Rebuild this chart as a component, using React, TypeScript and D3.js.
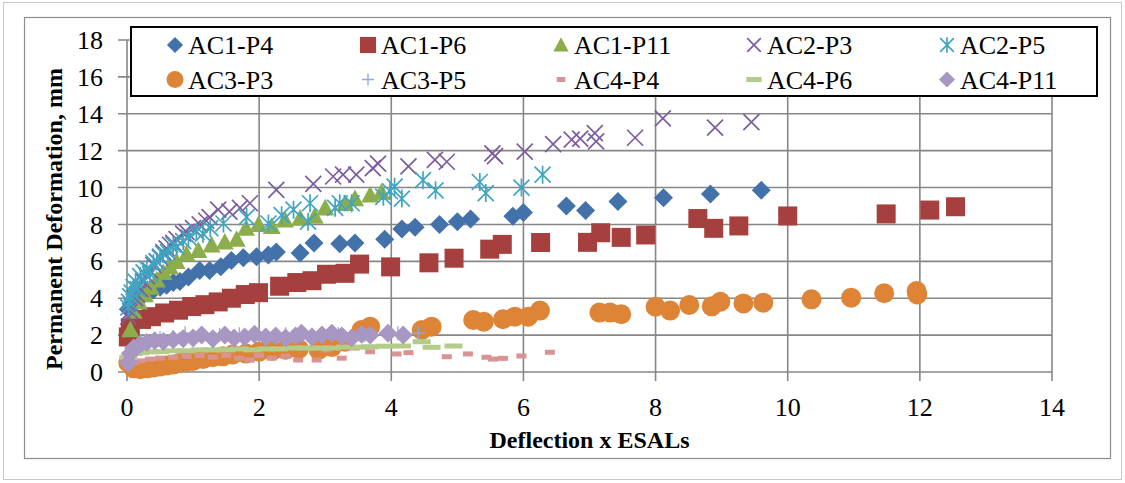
import React, { useRef, useEffect } from "react";
import * as d3 from "d3";

// [deflection x ESALs, permanent deformation mm]
const ac1p4 = [
  [0.02, 3.4], [0.08, 3.7], [0.15, 3.9], [0.22, 4.1], [0.3, 4.3], [0.4, 4.45], [0.5, 4.6], [0.6, 4.7],
  [0.7, 4.85], [0.8, 4.9], [0.93, 5.15], [1.1, 5.5], [1.25, 5.5], [1.42, 5.7], [1.58, 6.05], [1.76, 6.2],
  [1.96, 6.25], [2.14, 6.35], [2.26, 6.5], [2.62, 6.45], [2.83, 7.0], [3.22, 6.95], [3.45, 7.0], [3.9, 7.2],
  [4.16, 7.75], [4.36, 7.85], [4.73, 8.0], [5.0, 8.15], [5.2, 8.3], [5.84, 8.45], [6.0, 8.65], [6.65, 9.0],
  [6.94, 8.75], [7.43, 9.25], [8.12, 9.45], [8.83, 9.65], [9.6, 9.85],
];
const ac1p6 = [
  [0.02, 1.9], [0.05, 2.4], [0.22, 2.85], [0.37, 3.0], [0.57, 3.2], [0.78, 3.35], [0.98, 3.55], [1.18, 3.65],
  [1.38, 3.8], [1.58, 4.0], [1.79, 4.2], [1.99, 4.3], [2.31, 4.65], [2.57, 4.85], [2.8, 4.95], [3.02, 5.3],
  [3.3, 5.35], [3.52, 5.85], [3.99, 5.7], [4.57, 5.92], [4.95, 6.17], [5.49, 6.66], [5.68, 6.92], [6.26, 7.02],
  [6.97, 7.03], [7.17, 7.55], [7.48, 7.3], [7.85, 7.43], [8.64, 8.32], [8.88, 7.79], [9.26, 7.92], [10.0, 8.46],
  [11.49, 8.57], [12.15, 8.78], [12.54, 8.96],
];
const ac1p11 = [
  [0.05, 2.3], [0.1, 3.3], [0.18, 3.8], [0.27, 4.2], [0.36, 4.6], [0.45, 5.0], [0.55, 5.4], [0.65, 5.7],
  [0.75, 6.0], [0.9, 6.4], [1.08, 6.6], [1.28, 6.9], [1.48, 7.05], [1.66, 7.2], [1.8, 7.8], [1.99, 8.0],
  [2.19, 7.9], [2.39, 8.25], [2.62, 8.35], [2.84, 8.45], [3.0, 8.9], [3.3, 9.15], [3.45, 9.4], [3.68, 9.6],
  [3.85, 9.75],
];
const ac2p3 = [
  [0.02, 3.0], [0.05, 3.3], [0.08, 3.6], [0.12, 4.0], [0.15, 4.2], [0.2, 4.5], [0.25, 4.9], [0.3, 5.2],
  [0.35, 5.5], [0.4, 5.8], [0.45, 6.0], [0.5, 6.2], [0.55, 6.5], [0.6, 6.7], [0.65, 6.9], [0.7, 7.0],
  [0.75, 7.2], [0.85, 7.5], [0.9, 7.6], [1.0, 7.8], [1.1, 8.0], [1.2, 8.2], [1.25, 8.4], [1.38, 8.8],
  [1.55, 8.7], [1.71, 8.9], [1.86, 9.15], [2.26, 9.87], [2.82, 10.2], [3.12, 10.6], [3.27, 10.7], [3.47, 10.7],
  [3.72, 11.05], [3.8, 11.3], [4.26, 11.15], [4.66, 11.5], [4.84, 11.4], [5.53, 11.85], [5.57, 11.7],
  [6.02, 11.95], [6.45, 12.35], [6.73, 12.6], [6.86, 12.65], [7.08, 12.95], [7.1, 12.5], [7.69, 12.7],
  [8.11, 13.75], [8.9, 13.25], [9.45, 13.55],
];
const ac2p5 = [
  [0.02, 3.5], [0.03, 3.8], [0.05, 4.1], [0.07, 4.3], [0.1, 4.6], [0.13, 4.9], [0.16, 4.5], [0.2, 5.2],
  [0.25, 5.4], [0.3, 5.6], [0.35, 5.3], [0.4, 5.9], [0.45, 6.0], [0.5, 6.25], [0.55, 6.4], [0.62, 6.5],
  [0.7, 6.9], [0.75, 6.8], [0.85, 7.1], [0.93, 7.3], [1.05, 7.6], [1.15, 7.5], [1.26, 7.8], [1.46, 8.05],
  [1.81, 8.4], [2.14, 8.05], [2.34, 8.5], [2.52, 8.8], [2.74, 8.15], [2.77, 9.15], [3.15, 8.9], [3.22, 9.15],
  [3.4, 9.15], [3.88, 9.5], [3.98, 9.8], [4.05, 10.05], [4.16, 9.4], [4.48, 10.4], [4.67, 9.85], [5.34, 10.3],
  [5.43, 9.7], [5.97, 10.0], [6.29, 10.7],
];
const ac3p3 = [
  [0.02, 0.5], [0.1, 0.2], [0.2, 0.15], [0.3, 0.2], [0.4, 0.25], [0.5, 0.3], [0.6, 0.35], [0.7, 0.4],
  [0.8, 0.5], [0.9, 0.55], [1.0, 0.6], [1.15, 0.7], [1.3, 0.8], [1.45, 0.85], [1.6, 0.95], [1.8, 1.0],
  [2.0, 1.1], [2.2, 1.15], [2.4, 1.2], [2.6, 1.25], [2.9, 1.2], [3.1, 1.35], [3.3, 1.64], [3.55, 2.28],
  [3.68, 2.46], [4.46, 2.28], [4.61, 2.46], [5.24, 2.82], [5.4, 2.73], [5.69, 2.86], [5.87, 3.0], [6.07, 3.0],
  [6.25, 3.33], [7.15, 3.22], [7.31, 3.22], [7.48, 3.13], [8.0, 3.54], [8.22, 3.33], [8.51, 3.63], [8.85, 3.56],
  [8.98, 3.81], [9.33, 3.72], [9.63, 3.76], [10.36, 3.94], [10.96, 4.03], [11.46, 4.27], [11.95, 4.39], [11.96, 4.2],
];
const ac3p5 = [
  [0.02, 0.6], [0.05, 1.0], [0.1, 1.3], [0.2, 1.5], [0.3, 1.6], [0.5, 1.85], [0.7, 1.9], [0.88, 2.1],
  [1.1, 2.0], [1.4, 2.0], [1.7, 2.05], [2.0, 2.0], [2.4, 2.05], [2.8, 2.0], [3.2, 2.05], [3.6, 2.0],
  [4.1, 2.1], [4.41, 2.1],
];
const ac4p4 = [
  [0.02, 0.3], [0.1, 0.5], [0.2, 0.6], [0.35, 0.7], [0.5, 0.75], [0.7, 0.8], [0.9, 0.85], [1.1, 0.9],
  [1.3, 0.8], [1.5, 0.9], [1.7, 0.75], [1.86, 0.65], [2.0, 0.9], [2.19, 0.75], [2.4, 0.85], [2.59, 0.65],
  [2.87, 0.65], [3.02, 1.2], [3.25, 0.75], [3.45, 1.3], [3.68, 1.1], [4.08, 0.98], [4.26, 1.05], [4.84, 0.83],
  [5.16, 0.98], [5.44, 0.8], [5.54, 0.7], [5.69, 0.74], [5.97, 0.87], [6.4, 1.07],
];
const ac4p6 = [
  [0.02, 0.8], [0.1, 1.0], [0.2, 1.05], [0.35, 1.1], [0.5, 1.1], [0.7, 1.15], [0.9, 1.15], [1.1, 1.2],
  [1.3, 1.2], [1.5, 1.2], [1.7, 1.25], [1.9, 1.2], [2.1, 1.25], [2.3, 1.25], [2.5, 1.3], [2.7, 1.3],
  [2.9, 1.3], [3.1, 1.3], [3.3, 1.35], [3.5, 1.35], [3.68, 1.37], [3.9, 1.4], [4.16, 1.41], [4.46, 1.64],
  [4.61, 1.34], [4.94, 1.41],
];
const ac4p11 = [
  [0.02, 0.5], [0.05, 1.0], [0.1, 1.3], [0.2, 1.5], [0.3, 1.6], [0.42, 1.7], [0.55, 1.65], [0.7, 1.75],
  [0.85, 1.8], [1.0, 1.85], [1.13, 2.0], [1.3, 1.8], [1.48, 2.0], [1.62, 1.85], [1.78, 1.9], [1.93, 2.05],
  [2.1, 1.9], [2.25, 1.95], [2.4, 1.85], [2.55, 1.95], [2.64, 2.1], [2.8, 1.9], [2.95, 2.0], [3.1, 2.1],
  [3.25, 1.95], [3.4, 1.85], [3.55, 2.05], [3.68, 2.0], [3.95, 2.1], [4.18, 2.0],
];

const seriesNames = ["AC1-P4", "AC1-P6", "AC1-P11", "AC2-P3", "AC2-P5", "AC3-P3", "AC3-P5", "AC4-P4", "AC4-P6", "AC4-P11"];
const seriesData = [ac1p4, ac1p6, ac1p11, ac2p3, ac2p5, ac3p3, ac3p5, ac4p4, ac4p6, ac4p11];
const xTicks = [0, 2, 4, 6, 8, 10, 12, 14];
const yTicks = [0, 2, 4, 6, 8, 10, 12, 14, 16, 18];

const styles = [
  { shape: "diamond", color: "#4372aa" },
  { shape: "square", color: "#a5403e" },
  { shape: "triangle", color: "#8cad4b" },
  { shape: "x", color: "#7d5c9f" },
  { shape: "star", color: "#3fa5c1" },
  { shape: "circle", color: "#de8437" },
  { shape: "plus", color: "#8ea9d8" },
  { shape: "dash", color: "#d99392" },
  { shape: "longdash", color: "#b3cc89" },
  { shape: "diamond", color: "#a797c2" },
];

const FONT = "'Liberation Serif', 'DejaVu Serif', serif";

// draw a marker into g at (cx, cy)
function marker(g, shape, color, cx, cy, s = 1) {
  if (shape === "diamond") {
    const r = 9.5 * s;
    g.append("path").attr("d", `M${cx},${cy - r}L${cx + r},${cy}L${cx},${cy + r}L${cx - r},${cy}Z`).attr("fill", color);
  } else if (shape === "square") {
    const r = 9.5 * s;
    g.append("rect").attr("x", cx - r).attr("y", cy - r).attr("width", 2 * r).attr("height", 2 * r).attr("fill", color);
  } else if (shape === "triangle") {
    const r = 9 * s;
    g.append("path").attr("d", `M${cx},${cy - r}L${cx + r},${cy + r * 0.85}L${cx - r},${cy + r * 0.85}Z`).attr("fill", color);
  } else if (shape === "circle") {
    g.append("circle").attr("cx", cx).attr("cy", cy).attr("r", 10 * s).attr("fill", color);
  } else if (shape === "x") {
    const r = 8 * s;
    g.append("path").attr("d", `M${cx - r},${cy - r}L${cx + r},${cy + r}M${cx - r},${cy + r}L${cx + r},${cy - r}`)
      .attr("stroke", color).attr("stroke-width", 1.7).attr("fill", "none");
  } else if (shape === "star") {
    const r = 8 * s;
    g.append("path").attr("d", `M${cx - r},${cy - r}L${cx + r},${cy + r}M${cx - r},${cy + r}L${cx + r},${cy - r}M${cx},${cy - r - 1}L${cx},${cy + r + 1}`)
      .attr("stroke", color).attr("stroke-width", 1.7).attr("fill", "none");
  } else if (shape === "plus") {
    const r = 7 * s;
    g.append("path").attr("d", `M${cx - r},${cy}L${cx + r},${cy}M${cx},${cy - r}L${cx},${cy + r}`)
      .attr("stroke", color).attr("stroke-width", 1.3).attr("fill", "none");
  } else if (shape === "dash") {
    g.append("rect").attr("x", cx - 5 * s).attr("y", cy - 2.5).attr("width", 10 * s).attr("height", 5).attr("fill", color);
  } else if (shape === "longdash") {
    g.append("rect").attr("x", cx - 9 * s).attr("y", cy - 2.5).attr("width", 18 * s).attr("height", 5).attr("fill", color);
  }
}

function ScatterChart() {
  const svgRef = useRef(null);

  useEffect(() => {
    const svg = d3.select(svgRef.current);
    svg.selectAll("*").remove();

    const x = d3.scaleLinear().domain([0, 14]).range([127, 1052]);
    const y = d3.scaleLinear().domain([0, 18]).range([372, 40]);

    svg.append("rect").attr("width", 1125).attr("height", 483).attr("fill", "#fff");
    // outer and inner frames
    svg.append("rect").attr("x", 3.5).attr("y", 2.5).attr("width", 1118).attr("height", 477)
      .attr("fill", "none").attr("stroke", "#c8c8c8").attr("stroke-width", 1);
    svg.append("rect").attr("x", 24.5).attr("y", 17.5).attr("width", 1086).attr("height", 441)
      .attr("fill", "none").attr("stroke", "#8c8c8c").attr("stroke-width", 1.2);

    // grid
    const grid = svg.append("g").attr("stroke", "#878787").attr("stroke-width", 1.6);
    yTicks.forEach((t) => {
      grid.append("line").attr("x1", x(0) - 9).attr("x2", x(14)).attr("y1", y(t)).attr("y2", y(t));
    });
    xTicks.forEach((t) => {
      grid.append("line").attr("x1", x(t)).attr("x2", x(t)).attr("y1", y(18)).attr("y2", y(0) + 9);
    });

    // tick labels
    svg.append("g").selectAll("text").data(yTicks).join("text")
      .attr("x", 103).attr("y", (d) => y(d)).attr("dy", "0.35em")
      .attr("text-anchor", "end").attr("font-family", FONT).attr("font-size", 26).attr("fill", "#000")
      .text((d) => d);
    svg.append("g").selectAll("text").data(xTicks).join("text")
      .attr("x", (d) => x(d)).attr("y", 407).attr("dy", "0.35em")
      .attr("text-anchor", "middle").attr("font-family", FONT).attr("font-size", 26).attr("fill", "#000")
      .text((d) => d);

    // axis titles
    svg.append("text").attr("x", (x(0) + x(14)) / 2).attr("y", 440).attr("dy", "0.35em")
      .attr("text-anchor", "middle").attr("font-family", FONT).attr("font-weight", "bold").attr("font-size", 24)
      .text("Deflection x ESALs");
    svg.append("text").attr("transform", "translate(54,219) rotate(-90)").attr("dy", "0.35em")
      .attr("text-anchor", "middle").attr("font-family", FONT).attr("font-weight", "bold").attr("font-size", 24)
      .text("Permanent Deformation, mm");

    // points
    const plot = svg.append("g");
    seriesData.forEach((data, i) => {
      const st = styles[i];
      const g = plot.append("g");
      data.forEach((d) => marker(g, st.shape, st.color, x(d[0]), y(d[1])));
    });

    // legend
    const legend = svg.append("g");
    legend.append("rect").attr("x", 131).attr("y", 27).attr("width", 966).attr("height", 69)
      .attr("fill", "#fff").attr("stroke", "#000").attr("stroke-width", 2);
    seriesNames.forEach((name, i) => {
      const col = i % 5;
      const row = Math.floor(i / 5);
      const mx = 175 + col * 193;
      const my = 45 + row * 34.5;
      marker(legend, styles[i].shape, styles[i].color, mx, my, 0.85);
      legend.append("text").attr("x", mx + 13).attr("y", my).attr("dy", "0.35em")
        .attr("font-family", FONT).attr("font-size", 26).attr("fill", "#000").text(name);
    });
  }, []);

  return <svg ref={svgRef} width={1125} height={483} style={{ position: "absolute", left: 0, top: 0 }}></svg>;
}

export default function App() {
  return <ScatterChart />;
}
